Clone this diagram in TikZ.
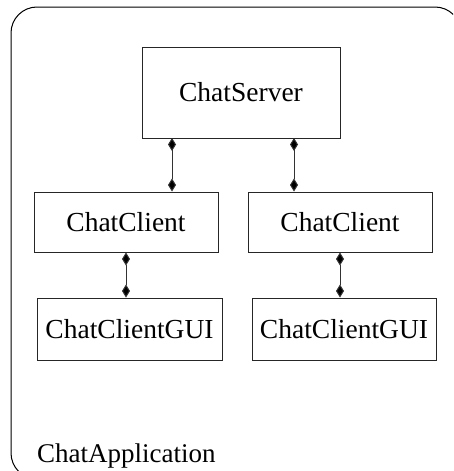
\documentclass[tikz,border=0pt]{standalone}
\usepackage{fontspec}
\setmainfont{Liberation Serif}
\usetikzlibrary{arrows.meta}
\begin{document}
\begin{tikzpicture}[x=1pt,y=-1pt,
  box/.style={draw=black!85,line width=1pt,inner sep=0pt,font=\fontsize{27.5}{32}\selectfont},
  comp/.style={draw=black!80,line width=1pt,{Diamond[length=13pt,width=8pt,fill=black]}-{Diamond[length=13pt,width=8pt,fill=black]}},
  lbl/.style={inner sep=0pt,font=\fontsize{27}{32}\selectfont}]
\useasboundingbox (0,0) rectangle (453,471);
\begin{scope}
\clip (0,0) rectangle (453,471);
\draw[line width=1pt,rounded corners=26pt] (11,7) rectangle (461,479);
\end{scope}
\node[box,minimum width=198pt,minimum height=91pt] (srv) at (241,92.5) {ChatServer};
\node[box,minimum width=184pt,minimum height=60pt] (c1) at (126,222) {ChatClient};
\node[box,minimum width=184pt,minimum height=60pt] (c2) at (340,222) {ChatClient};
\node[box,minimum width=185pt,minimum height=62pt] (g1) at (129.5,329) {ChatClientGUI};
\node[box,minimum width=184pt,minimum height=62pt] (g2) at (344,329) {ChatClientGUI};
\coordinate (s1) at (172,138);
\coordinate (s2) at (294,138);
\draw[comp] (s1) -- (s1 |- c1.north);
\draw[comp] (s2) -- (s2 |- c2.north);
\draw[comp] (c1.south) -- (c1.south |- g1.north);
\draw[comp] (c2.south) -- (c2.south |- g2.north);
\node[lbl,anchor=base west] (app) at (37,462) {ChatApplication};
\end{tikzpicture}
\end{document}
